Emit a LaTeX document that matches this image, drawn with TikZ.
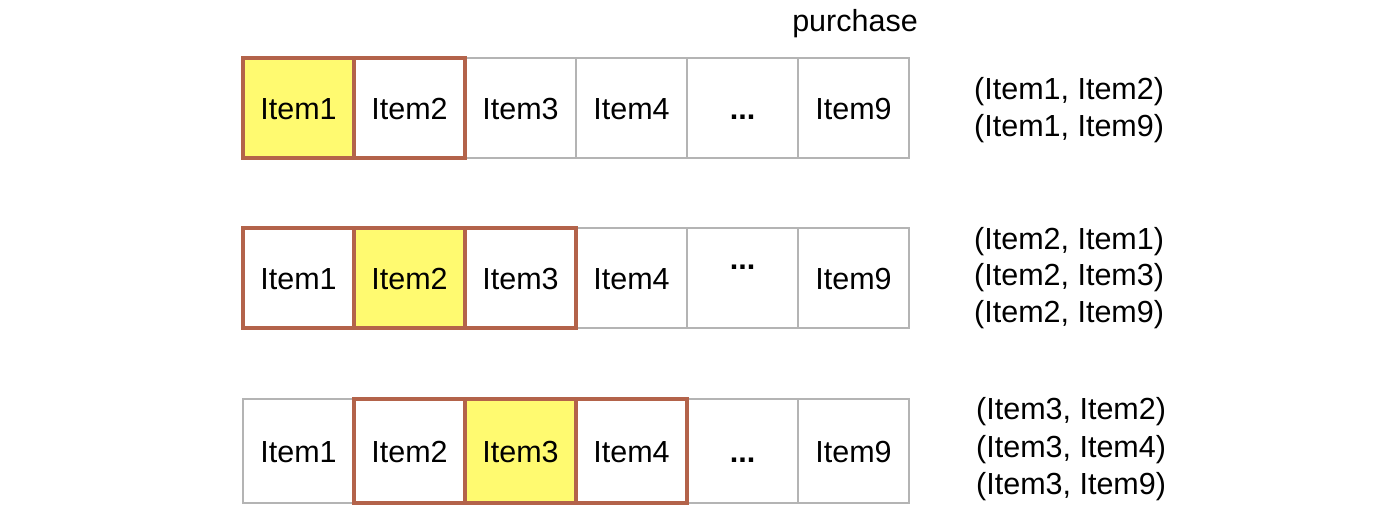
\documentclass[tikz,border=0pt]{standalone}
\usepackage{fontspec}
\setmainfont{Liberation Sans}
\definecolor{hlbrown}{HTML}{B3634A}
\definecolor{hlyellow}{HTML}{FFFA70}
\definecolor{cellgray}{HTML}{B4B4B4}
\begin{document}
\begin{tikzpicture}[x=1pt,y=-1pt,
  cell/.style={draw=cellgray,line width=1.2pt,minimum width=111pt,minimum height=100pt,
    inner sep=0pt,text height=22pt,text depth=0pt,font=\fontsize{30.5}{36}\selectfont,text=black},
  hl/.style={cell,draw=hlbrown,line width=3.2pt},
  focus/.style={hl,fill=hlyellow},
  pair/.style={anchor=west,inner sep=0pt,font=\fontsize{30.5}{36}\selectfont,text=black},
  tall/.style={minimum height=104pt}]
\useasboundingbox (0,0) rectangle (1400,514);
% row 1
\node[cell] (a3) at (520.5,108) {Item3};
\node[cell] (a4) at (631.5,108) {Item4};
\node[cell] (a5) at (742.5,108) {\textbf{...}};
\node[cell] (a9) at (853.5,108) {Item9};
\node[focus] (a1) at (298.5,108) {Item1};
\node[hl] (a2) at (409.5,108) {Item2};
\node[pair,anchor=south] (purchase) at (855,38) {purchase};
\node[pair] (p11) at (974,92) {(Item1, Item2)};
\node[pair] (p12) at (974,129) {(Item1, Item9)};
% row 2
\node[cell] (b4) at (631.5,278) {Item4};
\node[cell] (b5) at (742.5,278) {\raisebox{20pt}{\textbf{...}}};
\node[cell] (b9) at (853.5,278) {Item9};
\node[hl] (b1) at (298.5,278) {Item1};
\node[focus] (b2) at (409.5,278) {Item2};
\node[hl] (b3) at (520.5,278) {Item3};
\node[pair] (p21) at (974,242) {(Item2, Item1)};
\node[pair] (p22) at (974,278) {(Item2, Item3)};
\node[pair] (p23) at (974,315) {(Item2, Item9)};
% row 3
\node[cell,tall] (c1) at (298.5,451) {Item1};
\node[cell,tall] (c5) at (742.5,451) {\textbf{...}};
\node[cell,tall] (c9) at (853.5,451) {Item9};
\node[hl,tall] (c2) at (409.5,451) {Item2};
\node[focus,tall] (c3) at (520.5,451) {Item3};
\node[hl,tall] (c4) at (631.5,451) {Item4};
\node[pair] (p31) at (976,412) {(Item3, Item2)};
\node[pair] (p32) at (976,450) {(Item3, Item4)};
\node[pair] (p33) at (976,487) {(Item3, Item9)};
\end{tikzpicture}
\end{document}
